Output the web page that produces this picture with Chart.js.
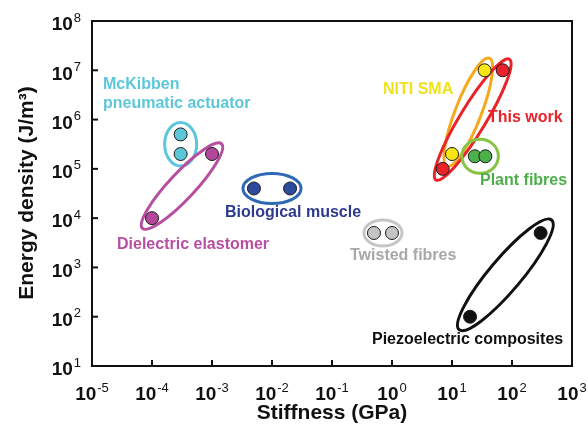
<!DOCTYPE html>
<html>
<head>
<meta charset="utf-8">
<script src="https://cdn.jsdelivr.net/npm/chart.js@4"></script>
<style>
  html, body { margin: 0; padding: 0; background: #fff; }
  #wrap { width: 588px; height: 434px; }
</style>
</head>
<body>
<div id="wrap"><canvas id="chart" width="588" height="434"></canvas></div>
<script>
// Data (stiffness in GPa, energy density in J/m3)
const groupNames = ['McKibben', 'Dielectric', 'Biological', 'Twisted', 'Piezo', 'NiTi', 'ThisWork', 'Plant'];
const mckibbenX = [3e-4, 3e-4];      const mckibbenY = [5e5, 2e5];
const dielectricX = [1e-4, 1e-3];    const dielectricY = [1e4, 2e5];
const biologicalX = [5e-3, 2e-2];    const biologicalY = [4e4, 4e4];
const twistedX = [0.5, 1];           const twistedY = [5e3, 5e3];
const piezoX = [20, 300];            const piezoY = [100, 5e3];
const nitiX = [10, 35];              const nitiY = [2e5, 1e7];
const thisWorkX = [7, 70];           const thisWorkY = [1e5, 1e7];
const plantX = [24, 36];             const plantY = [1.8e5, 1.8e5];

const xTickExps = [-5, -4, -3, -2, -1, 0, 1, 2, 3];
const yTickExps = [1, 2, 3, 4, 5, 6, 7, 8];

// Styles per group
const STYLE = {
  McKibben:   { fill: '#5cc7d8', ring: '#5cc7dc', label: ['McKibben', 'pneumatic actuator'], text: '#5cc7d8', lx: 103, ly: 85, padMaj: 12, minor: 16 },
  Dielectric: { fill: '#b3479b', ring: '#b84ea0', label: ['Dielectric elastomer'], text: '#b84ea0', lx: 117, ly: 245, padMaj: 14, minor: 13 },
  Biological: { fill: '#2d4a9e', ring: '#2f68b4', label: ['Biological muscle'], text: '#2e3a8f', lx: 225, ly: 213, padMaj: 11, minor: 15 },
  Twisted:    { fill: '#c4c4c4', ring: '#c6c6c6', label: ['Twisted fibres'], text: '#a8a8a8', lx: 350, ly: 256, padMaj: 10, minor: 13 },
  Piezo:      { fill: '#111111', ring: '#111111', label: ['Piezoelectric composites'], text: '#111111', lx: 372, ly: 340, padMaj: 17, minor: 16 },
  NiTi:       { fill: '#f5e614', ring: '#f5a91c', label: ['NITI SMA'], text: '#f0e21a', lx: 383, ly: 90, padMaj: 13, minor: 13 },
  ThisWork:   { fill: '#e8232a', ring: '#e8232a', label: ['This work'], text: '#e8232a', lx: 488, ly: 118, padMaj: 13, minor: 13 },
  Plant:      { fill: '#4daf4a', ring: '#86c441', label: ['Plant fibres'], text: '#4daf4a', lx: 480, ly: 181, padMaj: 13, minor: 17 },
};

const FONT = "'Liberation Sans', Arial, sans-serif";

function toPoints(xs, ys) {
  return xs.map((x, i) => ({ x, y: ys[i] }));
}

const groupData = [
  [mckibbenX, mckibbenY], [dielectricX, dielectricY], [biologicalX, biologicalY],
  [twistedX, twistedY], [piezoX, piezoY], [nitiX, nitiY], [thisWorkX, thisWorkY], [plantX, plantY],
];

const datasets = groupNames.map((name, i) => ({
  label: name,
  data: toPoints(groupData[i][0], groupData[i][1]),
  backgroundColor: STYLE[name].fill,
  borderColor: '#1a1a1a',
  borderWidth: 1,
  pointRadius: 6.5,
  pointHoverRadius: 6.5,
}));

// Helper: draw "10" with a superscript exponent
function drawPower(ctx, exp, x, y, align) {
  const base = '10';
  const sup = String(exp);
  ctx.font = `bold 19px ${FONT}`;
  const wb = ctx.measureText(base).width;
  ctx.font = `13px ${FONT}`;
  const ws = ctx.measureText(sup).width;
  let left = x;
  if (align === 'center') left = x - (wb + ws + 1) / 2;
  if (align === 'right') left = x - (wb + ws + 1);
  ctx.textAlign = 'left';
  ctx.textBaseline = 'middle';
  ctx.font = `bold 19px ${FONT}`;
  ctx.fillText(base, left, y);
  ctx.font = `13px ${FONT}`;
  ctx.fillText(sup, left + wb + 1, y - 7);
}

// Ellipses around each group, drawn under the points
const ellipsePlugin = {
  id: 'ellipses',
  beforeDatasetsDraw(chart) {
    const { ctx, scales: { x, y } } = chart;
    ctx.save();
    groupNames.forEach((name, i) => {
      const st = STYLE[name];
      const xs = groupData[i][0], ys = groupData[i][1];
      const x1 = x.getPixelForValue(xs[0]), y1 = y.getPixelForValue(ys[0]);
      const x2 = x.getPixelForValue(xs[xs.length - 1]), y2 = y.getPixelForValue(ys[ys.length - 1]);
      const cx = (x1 + x2) / 2, cy = (y1 + y2) / 2;
      const half = Math.hypot(x2 - x1, y2 - y1) / 2;
      const ang = Math.atan2(y2 - y1, x2 - x1);
      ctx.beginPath();
      ctx.ellipse(cx, cy, half + st.padMaj, st.minor, ang, 0, Math.PI * 2);
      ctx.strokeStyle = st.ring;
      ctx.lineWidth = 3;
      ctx.stroke();
    });
    ctx.restore();
  },
  afterDraw(chart) {
    const { ctx, chartArea: a, scales: { x, y } } = chart;
    ctx.save();
    // frame
    ctx.strokeStyle = '#111';
    ctx.lineWidth = 2;
    ctx.strokeRect(a.left, a.top, a.right - a.left, a.bottom - a.top);
    ctx.fillStyle = '#111';
    // x ticks (inward) and labels
    xTickExps.forEach(e => {
      const px = x.getPixelForValue(Math.pow(10, e));
      ctx.beginPath();
      ctx.moveTo(px, a.bottom);
      ctx.lineTo(px, a.bottom - 6);
      ctx.stroke();
      drawPower(ctx, e, px, a.bottom + 29, 'center');
    });
    // y ticks (inward) and labels
    yTickExps.forEach(e => {
      const py = y.getPixelForValue(Math.pow(10, e));
      ctx.beginPath();
      ctx.moveTo(a.left, py);
      ctx.lineTo(a.left + 6, py);
      ctx.stroke();
      drawPower(ctx, e, 81, py + 4, 'right');
    });
    // axis titles
    ctx.font = `bold 21px ${FONT}`;
    ctx.textAlign = 'center';
    ctx.textBaseline = 'middle';
    ctx.fillText('Stiffness (GPa)', 332, 413);
    ctx.save();
    ctx.translate(27, 193);
    ctx.rotate(-Math.PI / 2);
    ctx.fillText('Energy density (J/m\u00B3)', 0, 0);
    ctx.restore();
    // group labels
    ctx.font = `bold 16px ${FONT}`;
    ctx.textAlign = 'left';
    groupNames.forEach(name => {
      const st = STYLE[name];
      ctx.fillStyle = st.text;
      st.label.forEach((line, k) => ctx.fillText(line, st.lx, st.ly + k * 19));
    });
    ctx.restore();
  }
};

new Chart(document.getElementById('chart').getContext('2d'), {
  type: 'scatter',
  data: { datasets },
  options: {
    responsive: false,
    animation: false,
    layout: { padding: { left: 92, right: 16, top: 21, bottom: 68 } },
    plugins: { legend: { display: false }, tooltip: { enabled: false } },
    scales: {
      x: { type: 'logarithmic', min: 1e-5, max: 1e3, display: false },
      y: { type: 'logarithmic', min: 10, max: 1e8, display: false },
    },
  },
  plugins: [ellipsePlugin],
});
</script>
</body>
</html>
